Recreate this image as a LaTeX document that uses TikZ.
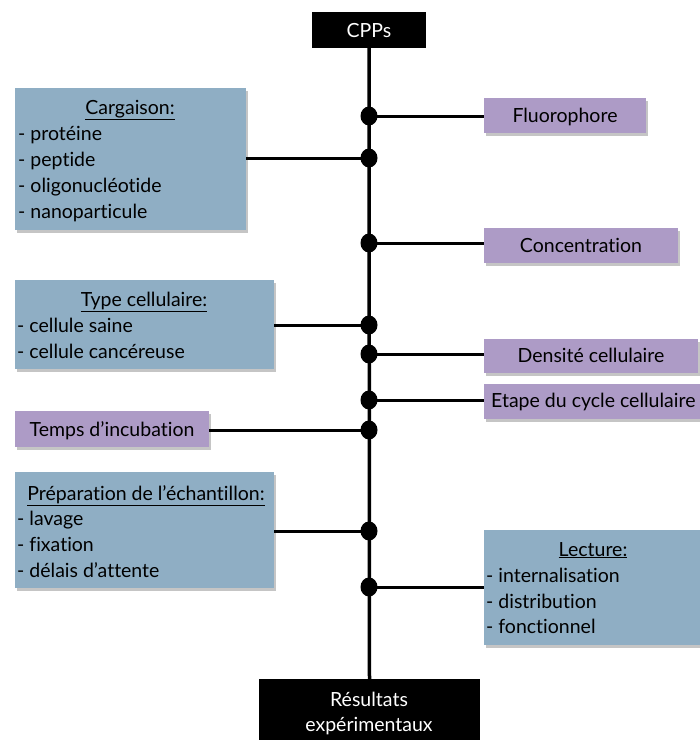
\documentclass[tikz,border=0pt]{standalone}
\usepackage{fontspec}
\setmainfont{Lato}[Ligatures=NoCommon]
\usetikzlibrary{shadows,shapes.geometric}
\definecolor{boxblue}{RGB}{143,174,196}
\definecolor{boxpurple}{RGB}{173,155,198}
\begin{document}
\begin{tikzpicture}[x=1pt,y=-1pt,
  base/.style={draw=none,inner sep=0pt,outer sep=0pt,anchor=north west,
    drop shadow={shadow xshift=1.5pt,shadow yshift=-2.5pt,fill=black!45,opacity=0.5}},
  bluebox/.style={base,fill=boxblue},
  purplebox/.style={base,fill=boxpurple},
  blackbox/.style={draw=none,fill=black,inner sep=0pt,outer sep=0pt,anchor=north west},
  ttl/.style={inner sep=0pt,anchor=base,font=\fontsize{19.5}{22}\selectfont},
  wttl/.style={ttl,text=white},
  item/.style={inner sep=0pt,anchor=base west,font=\fontsize{19.5}{22}\selectfont},
  dotn/.style={ellipse,fill=black,inner sep=0pt,minimum width=17pt,minimum height=19pt},
  conn/.style={line width=3pt}]
\useasboundingbox (0,0) rectangle (700,740);
% spine
\node[blackbox,minimum width=114pt,minimum height=36pt] (cpp) at (312,12) {};
\node[wttl] (cppt) at (369,37) {CPPs};
\node[blackbox,minimum width=221pt,minimum height=70pt] (res) at (259,679) {};
\node[wttl] (rest1) at (369,706) {Résultats};
\node[wttl] (rest2) at (369,731) {expérimentaux};
\draw[line width=3.5pt] (cpp.south) -- (res.north);
% dots
\foreach \n/\y in {d1/116,d2/158,d3/243,d4/325,d5/354,d6/400,d7/430,d8/531,d9/587}
  \node[dotn] (\n) at (369,\y) {};
% left boxes
\node[bluebox,minimum width=231pt,minimum height=142pt] (carg) at (15,88) {};
\node[ttl] (cargt) at (130,114) {\underline{Cargaison:}};
\foreach \t [count=\i] in {protéine,peptide,oligonucléotide,nanoparticule}
  \node[item] (cargl\i) at (18,{114+26*\i}) {- \t};
\node[bluebox,minimum width=259pt,minimum height=89pt] (type) at (15,280) {};
\node[ttl] (typet) at (144,306.5) {\underline{Type cellulaire:}};
\foreach \t [count=\i] in {cellule saine,cellule cancéreuse}
  \node[item] (typel\i) at (17,{306.5+26*\i}) {- \t};
\node[purplebox,minimum width=194pt,minimum height=36pt] (temps) at (15,411) {};
\node[ttl] (tempst) at (112,436.5) {Temps d’incubation};
\node[bluebox,minimum width=259pt,minimum height=116pt] (prep) at (15,472) {};
\node[ttl] (prept) at (146,500) {\underline{Préparation de l’échantillon:}};
\foreach \t [count=\i] in {lavage,fixation,délais d’attente}
  \node[item] (prepl\i) at (17,{499.5+26*\i}) {- \t};
% right boxes
\node[purplebox,minimum width=162pt,minimum height=35pt] (fluo) at (484,98) {};
\node[ttl] (fluot) at (565,122.5) {Fluorophore};
\node[purplebox,minimum width=194pt,minimum height=35pt] (conc) at (484,228) {};
\node[ttl] (conct) at (581,252) {Concentration};
\node[purplebox,minimum width=214pt,minimum height=34pt] (dens) at (484,339) {};
\node[ttl] (denst) at (591,362.5) {Densité cellulaire};
\node[purplebox,minimum width=222pt,minimum height=35pt] (etape) at (484,384) {};
\node[ttl,anchor=base west] (etapet) at (491,407.5) {Etape du cycle cellulaire};
\node[bluebox,minimum width=222pt,minimum height=115pt] (lect) at (484,530) {};
\node[ttl] (lectt) at (593,556) {\underline{Lecture:}};
\foreach \t [count=\i] in {internalisation,distribution,fonctionnel}
  \node[item] (lectl\i) at (486,{557+25.6*\i}) {- \t};
% connectors
\draw[conn] (carg.east |- d2) -- (d2.center);
\draw[conn] (type.east |- d4) -- (d4.center);
\draw[conn] (temps.east |- d7) -- (d7.center);
\draw[conn] (prep.east |- d8) -- (d8.center);
\draw[conn] (d1.center) -- (fluo.west |- d1);
\draw[conn] (d3.center) -- (conc.west |- d3);
\draw[conn] (d5.center) -- (dens.west |- d5);
\draw[conn] (d6.center) -- (etape.west |- d6);
\draw[conn] (d9.center) -- (lect.west |- d9);
\end{tikzpicture}
\end{document}
